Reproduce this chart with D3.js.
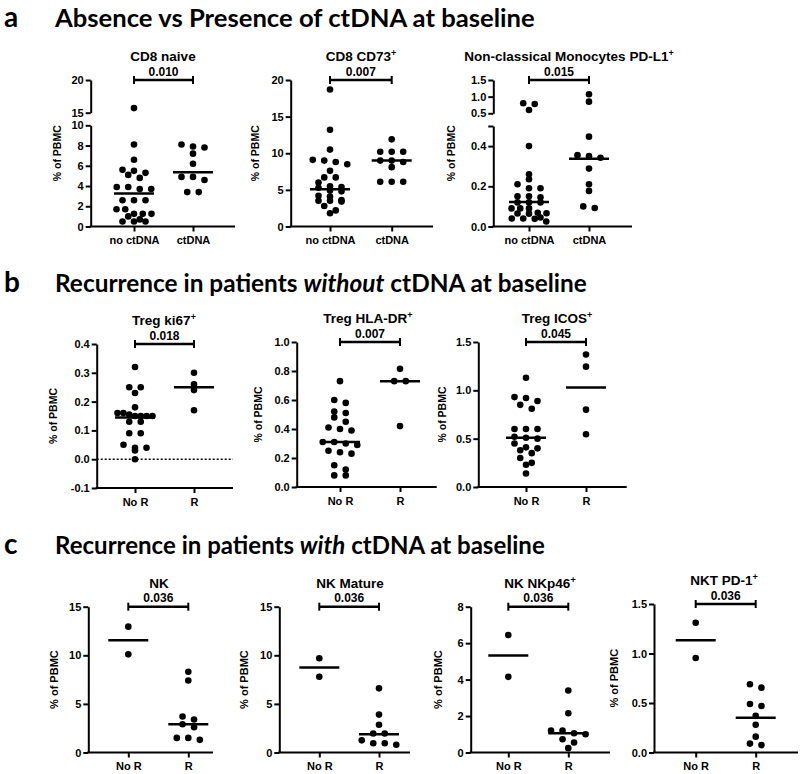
<!DOCTYPE html>
<html>
<head>
<meta charset="utf-8">
<script src="https://cdn.jsdelivr.net/npm/d3@7"></script>
<style>
body { margin: 0; background: #fff; }
text { font-family: "Liberation Sans", Arial, sans-serif; font-weight: bold; fill: #000; }
.heading { font-family: Lato, "Open Sans", sans-serif; }
</style>
</head>
<body>
<svg id="chart" width="800" height="774"></svg>
<script>
// categories
const catsA = ["no ctDNA", "ctDNA"];
const catsR = ["No R", "R"];

// row a values (% of PBMC)
const cd8NaiveNo = [15.7, 8.1, 6.6, 5.6, 5.5, 5.3, 5.1, 4.8, 3.9, 3.9, 3.7, 3.7, 2.6, 2.6, 2.6, 1.7, 1.7, 1.25, 1.25, 1.25, 1.0, 0.7, 0.5, 0.5, 0.5];
const cd8NaiveCt = [8.1, 7.9, 7.8, 7.2, 6.2, 4.9, 4.9, 4.6, 3.4, 3.4];
const cd8NaiveMed = [3.25, 5.35];

const cd73No = [18.7, 13.2, 10.5, 9.1, 9.0, 8.8, 8.5, 7.6, 6.7, 6.7, 6.0, 5.5, 5.4, 5.3, 4.9, 4.8, 4.2, 4.1, 3.6, 3.5, 3.5, 3.4, 2.8, 2.2, 1.8];
const cd73Ct = [11.9, 10.2, 10.2, 10.2, 9.0, 9.0, 8.8, 8.1, 6.1, 6.1, 6.1];
const cd73Med = [5.1, 9.0];

const monoNo = [0.80, 0.78, 0.60, 0.40, 0.26, 0.235, 0.21, 0.19, 0.19, 0.15, 0.15, 0.145, 0.12, 0.12, 0.12, 0.09, 0.09, 0.09, 0.068, 0.066, 0.065, 0.064, 0.045, 0.04, 0.04, 0.038, 0.025];
const monoCt = [1.07, 0.85, 0.447, 0.355, 0.35, 0.342, 0.288, 0.21, 0.177, 0.10, 0.092];
const monoMed = [0.122, 0.337];

// row b values
const ki67No = [0.32, 0.25, 0.25, 0.23, 0.18, 0.16, 0.16, 0.155, 0.15, 0.15, 0.15, 0.15, 0.13, 0.13, 0.09, 0.09, 0.05, 0.04, 0.04, 0.03, 0.0];
const ki67R = [0.30, 0.26, 0.24, 0.17];
const ki67Med = [0.145, 0.25];

const hladrNo = [0.73, 0.60, 0.58, 0.52, 0.51, 0.48, 0.45, 0.41, 0.40, 0.39, 0.31, 0.31, 0.30, 0.29, 0.25, 0.24, 0.23, 0.15, 0.12, 0.08, 0.08];
const hladrR = [0.815, 0.73, 0.73, 0.42];
const hladrMed = [0.31, 0.73];

const icosNo = [1.13, 0.93, 0.92, 0.89, 0.85, 0.81, 0.60, 0.60, 0.60, 0.52, 0.51, 0.50, 0.45, 0.41, 0.40, 0.38, 0.35, 0.30, 0.25, 0.23, 0.14];
const icosR = [1.37, 1.245, 0.80, 0.545];
const icosMed = [0.51, 1.03];

// row c values
const nkNo = [12.95, 10.1];
const nkR = [8.3, 7.4, 3.7, 3.4, 2.9, 2.6, 1.5, 1.5, 1.3];
const nkMed = [11.55, 2.9];

const nkMatNo = [9.7, 7.8];
const nkMatR = [6.6, 3.9, 2.85, 1.95, 1.95, 1.25, 0.95, 0.95, 0.8];
const nkMatMed = [8.75, 1.88];

const nkp46No = [6.45, 4.15];
const nkp46R = [3.4, 2.15, 1.2, 1.2, 1.06, 1.0, 0.73, 0.55, 0.24];
const nkp46Med = [5.32, 1.05];

const nktNo = [1.31, 0.955];
const nktR = [0.69, 0.655, 0.49, 0.47, 0.37, 0.28, 0.16, 0.09, 0.075];
const nktMed = [1.135, 0.35];

// tick values
const ticksNaiveLow = [0, 2, 4, 6, 8, 10];
const ticksNaiveHigh = [15, 20];
const ticks0to20 = [0, 5, 10, 15, 20];
const ticksMonoLow = [0, 0.2, 0.4, 0.5];
const ticksMonoHigh = [0.5, 1.0, 1.5];
const ticksKi67 = [-0.1, 0, 0.1, 0.2, 0.3, 0.4];
const ticks0to1 = [0, 0.2, 0.4, 0.6, 0.8, 1.0];
const ticks0to15dec = [0, 0.5, 1.0, 1.5];
const ticks0to15 = [0, 5, 10, 15];
const ticks0to8 = [0, 2, 4, 6, 8];

const headings = [
	{letter: "a", parts: [["Absence vs Presence of ctDNA at baseline", false]], y: 27, len: 480},
	{letter: "b", parts: [["Recurrence in patients ", false], ["without", true], [" ctDNA at baseline", false]], y: 292, len: 532},
	{letter: "c", parts: [["Recurrence in patients ", false], ["with", true], [" ctDNA at baseline", false]], y: 554, len: 490}
];

const intFmt = v => d3.format("d")(v);
const decFmt = v => v.toFixed(1);

const panels = [
	{title: "CD8 naive", sup: "", p: "0.010", cats: catsA, series: [cd8NaiveNo, cd8NaiveCt], med: cd8NaiveMed,
	 ax: 90.7, axEnd: 235, cx: [134, 193], fmt: intFmt, ylabDx: -30, titleX: 163, labSize: 10.5,
	 segs: [{dom: [0, 10], rng: [226.5, 125.3], ticks: ticksNaiveLow}, {dom: [15, 20], rng: [112.7, 80], ticks: ticksNaiveHigh}]},
	{title: "CD8 CD73", sup: "+", p: "0.007", cats: catsA, series: [cd73No, cd73Ct], med: cd73Med,
	 ax: 290.7, axEnd: 433, cx: [330, 391.7], fmt: intFmt, ylabDx: -32, titleX: 361, labSize: 10.5,
	 segs: [{dom: [0, 20], rng: [226.5, 80], ticks: ticks0to20}]},
	{title: "Non-classical Monocytes PD-L1", sup: "+", p: "0.015", cats: catsA, series: [monoNo, monoCt], med: monoMed,
	 ax: 493.3, axEnd: 632, cx: [529, 589], fmt: decFmt, ylabDx: -38, titleX: 569, labSize: 10.5,
	 segs: [{dom: [0, 0.5], rng: [226.5, 126], ticks: ticksMonoLow, noLabel: [0.5]}, {dom: [0.5, 1.5], rng: [113.3, 80], ticks: ticksMonoHigh}]},

	{title: "Treg ki67", sup: "+", p: "0.018", cats: catsR, series: [ki67No, ki67R], med: ki67Med,
	 ax: 96.7, axEnd: 233, cx: [135, 194], fmt: decFmt, ylabDx: -40, titleX: 164, labSize: 10.5, zeroLine: true,
	 segs: [{dom: [-0.1, 0.4], rng: [488, 344], ticks: ticksKi67}]},
	{title: "Treg HLA-DR", sup: "+", p: "0.007", cats: catsR, series: [hladrNo, hladrR], med: hladrMed,
	 ax: 296.7, axEnd: 436.7, cx: [340, 400], fmt: decFmt, ylabDx: -35, titleX: 368, labSize: 10.5,
	 segs: [{dom: [0, 1], rng: [487, 342], ticks: ticks0to1}]},
	{title: "Treg ICOS", sup: "+", p: "0.045", cats: catsR, series: [icosNo, icosR], med: icosMed,
	 ax: 478.3, axEnd: 626.7, cx: [526, 586], fmt: decFmt, ylabDx: -32, titleX: 557, labSize: 10.5,
	 segs: [{dom: [0, 1.5], rng: [487, 342], ticks: ticks0to15dec}]},

	{title: "NK", sup: "", p: "0.036", cats: catsR, series: [nkNo, nkR], med: nkMed,
	 ax: 88.3, axEnd: 213, cx: [128.3, 188.3], fmt: intFmt, ylabDx: -30, titleX: 159, labSize: 11,
	 segs: [{dom: [0, 15], rng: [752.5, 606.7], ticks: ticks0to15}]},
	{title: "NK Mature", sup: "", p: "0.036", cats: catsR, series: [nkMatNo, nkMatR], med: nkMatMed,
	 ax: 279.3, axEnd: 410, cx: [319.3, 379], fmt: intFmt, ylabDx: -31, titleX: 350, labSize: 11,
	 segs: [{dom: [0, 15], rng: [752.5, 606.7], ticks: ticks0to15}]},
	{title: "NK NKp46", sup: "+", p: "0.036", cats: catsR, series: [nkp46No, nkp46R], med: nkp46Med,
	 ax: 470.7, axEnd: 610, cx: [508.3, 568.3], fmt: intFmt, ylabDx: -29, titleX: 540, labSize: 11,
	 segs: [{dom: [0, 8], rng: [752.5, 606.7], ticks: ticks0to8}]},
	{title: "NKT PD-1", sup: "+", p: "0.036", cats: catsR, series: [nktNo, nktR], med: nktMed,
	 ax: 654, axEnd: 798, cx: [695.7, 755.7], fmt: decFmt, ylabDx: -36, titleX: 724, labSize: 11,
	 segs: [{dom: [0, 1.5], rng: [752.5, 604], ticks: ticks0to15dec}]}
];

const svg = d3.select("#chart");
const dotR = 3.3,
	binPx = 5,
	slot = 11.5,
	maxRow = 35,
	medHalf = 20,
	tickFont = 11;

// headings: squeezed horizontally to look like the condensed original font
headings.forEach(h => {
	svg.append("text")
		.attr("class", "heading")
		.attr("x", 4)
		.attr("y", h.y)
		.attr("font-size", 28)
		.text(h.letter);
	let t = svg.append("text")
		.attr("class", "heading")
		.attr("font-size", 25);
	h.parts.forEach(part => {
		t.append("tspan")
			.attr("font-style", part[1] ? "italic" : "normal")
			.text(part[0]);
	});
	const natural = t.node().getComputedTextLength();
	const sx = h.len / natural;
	t.attr("transform", "translate(55," + h.y + ") scale(" + sx + ",1)");
});

//spread points of one column in rows, a bit like prism does
function swarm(vals, yOf, cx) {
	let pts = vals.map(v => ({v: v, y: yOf(v)})).sort((a, b) => a.y - b.y);
	let rows = [], cur = null;
	pts.forEach(p => {
		if (!cur || p.y - cur[0].y > binPx) {
			cur = [p];
			rows.push(cur);
		} else {
			cur.push(p);
		}
	});
	rows.forEach(r => {
		const n = r.length;
		const s = n > 1 ? Math.min(slot, maxRow / (n - 1)) : 0;
		r.forEach((p, i) => { p.x = cx + (i - (n - 1) / 2) * s; });
	});
	return pts;
}

function styleAxis(a) {
	a.attr("font-family", null).attr("font-size", null);
	a.select(".domain").attr("stroke", "#000").attr("stroke-width", 2);
	a.selectAll(".tick line").attr("stroke", "#000").attr("stroke-width", 2);
	a.selectAll(".tick text")
		.style("font-size", tickFont + "px")
		.style("font-family", "'Liberation Sans', Arial, sans-serif")
		.style("font-weight", "bold");
}

function drawPanel(p) {
	const g = svg.append("g");
	const segs = p.segs.map(s => Object.assign({}, s, {scale: d3.scaleLinear().domain(s.dom).range(s.rng)}));
	const yOf = v => {
		const s = segs.find(s => v >= s.dom[0] && v <= s.dom[1]) || segs[0];
		return s.scale(v);
	};
	const baseY = segs[0].rng[0];
	const topY = segs[segs.length - 1].rng[1];

	// y axis, one piece per segment (axis break)
	segs.forEach(s => {
		const axis = d3.axisLeft(s.scale)
			.tickValues(s.ticks)
			.tickSize(5)
			.tickPadding(2)
			.tickSizeOuter(0)
			.tickFormat(v => (s.noLabel || []).includes(v) ? "" : p.fmt(v));
		const a = g.append("g").attr("transform", "translate(" + p.ax + ",0)").call(axis);
		styleAxis(a);
	});

	// x axis
	const x = d3.scalePoint().domain(p.cats).range(p.cx);
	const xa = g.append("g")
		.attr("transform", "translate(0," + baseY + ")")
		.call(d3.axisBottom(x).tickSize(5).tickPadding(5).tickSizeOuter(0));
	styleAxis(xa);
	xa.select(".domain").remove();
	g.append("line")
		.attr("x1", p.ax - 1)
		.attr("x2", p.axEnd)
		.attr("y1", baseY)
		.attr("y2", baseY)
		.attr("stroke", "#000")
		.attr("stroke-width", 2);

	if (p.zeroLine) {
		g.append("line")
			.attr("x1", p.ax)
			.attr("x2", p.axEnd)
			.attr("y1", yOf(0))
			.attr("y2", yOf(0))
			.attr("stroke", "#000")
			.attr("stroke-width", 1.5)
			.attr("stroke-dasharray", "2,2");
	}

	// points
	p.series.forEach((vals, i) => {
		const pts = swarm(vals, yOf, x(p.cats[i]));
		g.selectAll(null)
			.data(pts)
			.enter()
			.append("circle")
			.attr("cx", d => d.x)
			.attr("cy", d => d.y)
			.attr("r", dotR)
			.attr("fill", "#000");
	});

	// medians
	g.selectAll(null)
		.data(p.med)
		.enter()
		.append("line")
		.attr("x1", (d, i) => x(p.cats[i]) - medHalf)
		.attr("x2", (d, i) => x(p.cats[i]) + medHalf)
		.attr("y1", d => yOf(d))
		.attr("y2", d => yOf(d))
		.attr("stroke", "#000")
		.attr("stroke-width", 2.5);

	// significance bracket
	const x0 = x(p.cats[0]), x1 = x(p.cats[1]);
	g.append("line")
		.attr("x1", x0).attr("x2", x1)
		.attr("y1", topY).attr("y2", topY)
		.attr("stroke", "#000").attr("stroke-width", 2.5);
	[x0, x1].forEach(xx => {
		g.append("line")
			.attr("x1", xx).attr("x2", xx)
			.attr("y1", topY - 4).attr("y2", topY + 4)
			.attr("stroke", "#000").attr("stroke-width", 2);
	});
	g.append("text")
		.attr("x", (x0 + x1) / 2)
		.attr("y", topY - 4.5)
		.attr("text-anchor", "middle")
		.attr("font-size", 12)
		.text(p.p);

	// title
	const t = g.append("text")
		.attr("x", p.titleX)
		.attr("y", topY - 19)
		.attr("text-anchor", "middle")
		.attr("font-size", 13.5);
	t.append("tspan").text(p.title);
	if (p.sup) {
		t.append("tspan")
			.attr("font-size", 9)
			.attr("dy", -5)
			.text(p.sup);
	}

	// y label
	g.append("text")
		.attr("transform", "translate(" + (p.ax + p.ylabDx) + "," + ((topY + baseY) / 2) + ") rotate(-90)")
		.attr("text-anchor", "middle")
		.attr("font-size", p.labSize)
		.text("% of PBMC");
}

panels.forEach(drawPanel);
</script>
</body>
</html>
